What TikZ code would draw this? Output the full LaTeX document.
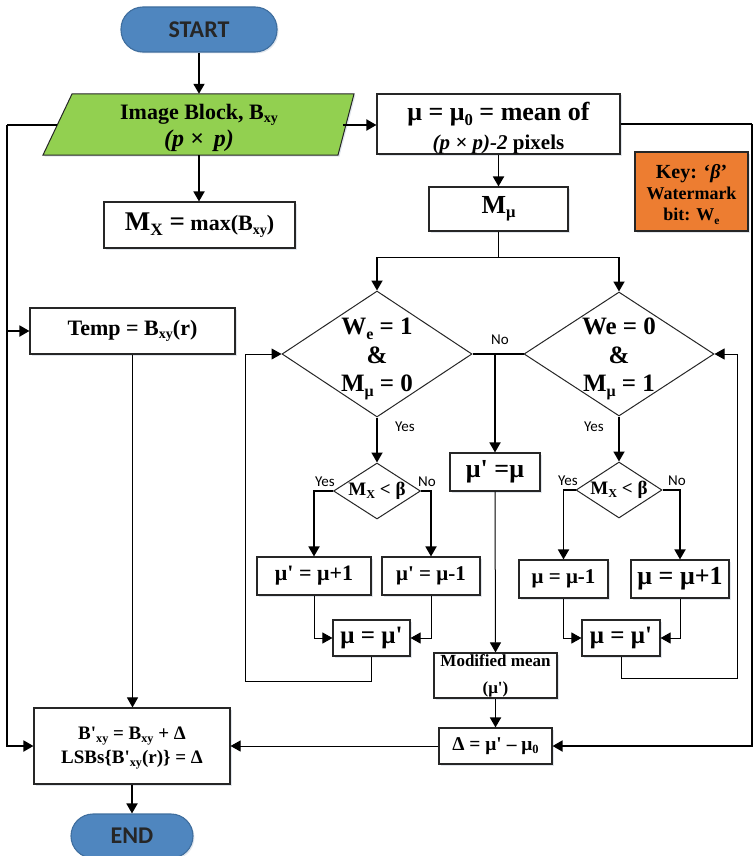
\documentclass[tikz,border=0pt]{standalone}
\usepackage{fontspec}
\setmainfont{Liberation Serif}[Ligatures=TeXOff]
\newfontfamily\carl{Carlito}
\usetikzlibrary{arrows.meta,shapes.geometric,shadows}
\definecolor{pillblue}{HTML}{4F86BF}
\definecolor{pillline}{HTML}{3F6E9E}
\definecolor{imggreen}{HTML}{92D050}
\definecolor{keyorange}{HTML}{ED7D31}
\definecolor{edge}{HTML}{262626}
\definecolor{shade}{HTML}{A9B8CC}
\newcommand\fsz[2]{\fontsize{#1pt}{#2pt}\selectfont}
\newcommand\sbs[1]{\raisebox{-0.17em}{\scalebox{0.64}{#1}}}
\tikzset{
  shd/.style={drop shadow={shadow xshift=1.5pt, shadow yshift=-1.5pt, fill=shade, opacity=0.35}},
  box/.style={draw=edge, line width=1.1pt, fill=white, inner sep=0pt, align=center, shd},
  pill/.style={draw=pillline, line width=1.1pt, fill=pillblue, rounded corners=22pt, inner sep=0pt, font=\carl\bfseries\fsz{24}{28}, text=black!85, shd},
  dia/.style={draw=edge, line width=1pt, diamond, inner sep=0pt, fill=white},
  txt/.style={align=center, inner sep=0pt},
  thk/.style={line width=1.8pt, -{Triangle[length=10pt,width=11pt]}},
  thkn/.style={line width=1.8pt},
  thn/.style={line width=1pt, -{Triangle[length=10pt,width=11pt]}},
  yn/.style={font=\carl\fsz{15}{17}, inner sep=0pt}
}
\begin{document}
\begin{tikzpicture}[x=1pt,y=-1pt]
\useasboundingbox (0,0) rectangle (754,856);
% terminals
\node[pill, minimum width=156, minimum height=45] (start) at (199,29.5) {START};
\node[pill, minimum width=122, minimum height=44] (endn) at (132,836) {END};
% image block parallelogram
\filldraw[draw=edge, line width=1pt, fill=imggreen, shd] (72,94) -- (354,94) -- (338,155) -- (43,155) -- cycle;
\node[inner sep=0pt, minimum width=282, minimum height=61] (img) at (199,124.5) {};
\node[txt, font=\bfseries\fsz{22}{27}] (imgT) at ([yshift=-3pt]img.center)
  {Image Block, B\sbs{xy}\\{\fsz{24}{27}\itshape (p × \,p)}};
\coordinate (imgL) at (57,125);
\coordinate (imgR) at (343,125);
% boxes
\node[box, font=\bfseries\fsz{22}{26}, minimum width=191, minimum height=46] (mx) at (199.5,225)
  {{\fsz{27}{30}M\sbs{X} =} max(B\sbs{xy})};
\node[box, minimum width=243, minimum height=60] (mean) at (498.5,124) {};
\node[txt, font=\bfseries\fsz{21}{29}] (meanT) at ([yshift=-4.5pt]mean.center)
  {{\fsz{26}{28}μ = μ\sbs{0} = mean of}\\{\itshape (p × p)-2} pixels};
\node[box, font=\bfseries\fsz{26}{28}, minimum width=139, minimum height=44] (mmu) at (498.5,209) {M\sbs{μ}};
\node[box, fill=keyorange, minimum width=113, minimum height=79] (key) at (691.5,191.5) {};
\node[txt, font=\bfseries\fsz{18}{21}] (keyT) at ([yshift=-3pt]key.center)
  {{\fsz{20}{22}Key: ‘{\itshape β}’}\\Watermark\\bit: W\sbs{e}};
\node[box, font=\bfseries\fsz{22}{24}, minimum width=205, minimum height=46] (temp) at (132.5,331) {Temp = B\sbs{xy}(r)};
% diamonds
\node[dia, minimum width=190, minimum height=126] (d1) at (377,354) {};
\node[txt, font=\bfseries\fsz{25}{28.5}] (d1T) at ([yshift=-5pt]d1.center) {W\sbs{e} = 1\\\&\\M\sbs{μ} = 0};
\node[dia, minimum width=190, minimum height=124] (d2) at (619,354) {};
\node[txt, font=\bfseries\fsz{25}{28.5}] (d2T) at ([yshift=-5pt]d2.center) {We = 0\\\&\\M\sbs{μ} = 1};
\node[dia, minimum width=87, minimum height=56] (s1) at (377,491) {};
\node[txt, font=\bfseries\fsz{19}{21}] (s1T) at (s1.center) {M\sbs{X} < β};
\node[dia, minimum width=86, minimum height=56] (s2) at (619,490) {};
\node[txt, font=\bfseries\fsz{19}{21}] (s2T) at (s2.center) {M\sbs{X} < β};
\node[box, font=\bfseries\fsz{26}{28}, minimum width=90, minimum height=38] (mueq) at (495,472) {μ' =μ};
% update boxes
\node[box, font=\bfseries\fsz{22}{24}, minimum width=114, minimum height=38] (a1) at (314,576) {μ' = μ+1};
\node[box, font=\bfseries\fsz{21}{24}, minimum width=98, minimum height=38] (a2) at (431,576) {μ' = μ-1};
\node[box, font=\bfseries\fsz{21}{24}, minimum width=89, minimum height=38] (a3) at (563.5,579) {μ = μ-1};
\node[box, font=\bfseries\fsz{26}{28}, minimum width=98, minimum height=38] (a4) at (680,579) {μ = μ+1};
\node[box, font=\bfseries\fsz{25}{27}, minimum width=77, minimum height=36] (m1) at (371.5,638) {μ = μ'};
\node[box, font=\bfseries\fsz{25}{27}, minimum width=78, minimum height=36] (m2) at (621,638) {μ = μ'};
\node[box, font=\bfseries\fsz{17}{27}, minimum width=123, minimum height=45] (mod) at (495.5,675.5) {Modified mean\\(μ')};
\node[box, font=\bfseries\fsz{19.5}{22}, minimum width=113, minimum height=36] (delta) at (495.5,746) {Δ = μ' – μ\sbs{0}};
\node[box, minimum width=196, minimum height=76] (bp) at (132,746) {};
\node[txt, font=\bfseries\fsz{19}{24}] (bpT) at ([yshift=-2pt]bp.center)
  {B'\sbs{xy} = B\sbs{xy} + Δ\\LSBs\{B'\sbs{xy}(r)\} = Δ};
% connectors
\draw[thk] (start) -- (img.north);
\draw[thk] (img.south) -- (img.south |- mx.north);
\draw[thkn] (imgL) -- ++(-50,0) coordinate (lc);
\draw[thk] (lc) |- (bp.west);
\draw[thk] (lc |- temp.west) -- (temp.west);
\draw[thk] (imgR) -- (mean.west |- imgR);
\draw[thkn] (mean.east) -- (752,124) coordinate (rc);
\draw[thk] (rc) |- (delta.east);
\draw[thk] (mean.south) -- (mmu.north);
\draw[thkn] (mmu.south) -- ++(0,26) coordinate (sp);
\draw[thk] (sp) -| (d1.north);
\draw[thk] (sp) -| (d2.north);
\draw[thkn] (d1.east) -- (d2.west);
\draw[thk] (495,354) -- (mueq.north);
\node[yn] at (500,340) {No};
\draw[thk] (d1.south) -- (s1.north);
\node[yn] at (405,427) {Yes};
\draw[thk] (d2.south) -- (s2.north);
\node[yn] at (594,427) {Yes};
\draw[thk] (s1.west) -| (a1.north);
\draw[thk] (s1.east) -| (a2.north);
\node[yn] at (325,482) {Yes};
\node[yn] at (427,482) {No};
\draw[thk] (s2.west) -| (a3.north);
\draw[thk] (s2.east) -| (a4.north);
\node[yn] at (568,481) {Yes};
\node[yn] at (677,481) {No};
\draw[thn] (a1.south) |- (m1.west);
\draw[thn] (a2.south) |- (m1.east);
\draw[thn] (a3.south) |- (m2.west);
\draw[thn] (a4.south) |- (m2.east);
\draw[thn] (m1.south) -- ++(0,25) -| ([xshift=-36pt]d1.west) -- (d1.west);
\draw[thn] (m2.south) -- ++(0,22) -| ([xshift=23pt]d2.east) -- (d2.east);
\draw[thn] (mueq.south) -- (mod.north);
\draw[thk] (mod.south) -- (delta.north);
\draw[thn] (delta.west) -- (bp.east);
\draw[thn] (temp.south) -- (temp.south |- bp.north);
\draw[thk] (bp.south) -- (endn.north);
\end{tikzpicture}
\end{document}
